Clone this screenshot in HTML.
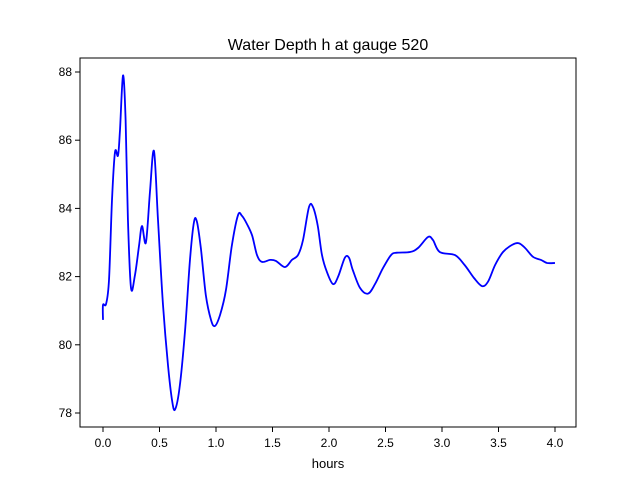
<!DOCTYPE html>
<html><head><meta charset="utf-8"><style>
body{margin:0;background:#fff}
svg{font-family:"Liberation Sans","DejaVu Sans",sans-serif}
</style></head><body>
<svg width="640" height="480" viewBox="0 0 640 480">
<rect width="640" height="480" fill="#fff"/>
<text x="328" y="50" text-anchor="middle" font-size="16">Water Depth h at gauge 520</text>
<g id="grid"></g>
<path id="line" fill="none" stroke="#0000ff" stroke-width="1.8"/>
<rect x="80" y="58" width="496" height="369" fill="none" stroke="#000" stroke-width="1"/>
<g id="xt"></g><g id="yt"></g>
<text x="328" y="468" text-anchor="middle" font-size="13">hours</text>
</svg>
<script>
const xTicks=[0,0.5,1,1.5,2,2.5,3,3.5,4];
const xTickLabels=["0.0","0.5","1.0","1.5","2.0","2.5","3.0","3.5","4.0"];
const yTicks=[78,80,82,84,86,88];
const yTickLabels=["78","80","82","84","86","88"];
const hours=[0,0,0.027,0.053,0.08,0.106,0.133,0.15,0.177,0.2,0.22,0.248,0.283,0.319,0.345,0.38,0.416,0.451,0.487,0.531,0.575,0.61,0.637,0.68,0.726,0.77,0.805,0.832,0.867,0.91,0.956,0.99,1.035,1.088,1.14,1.195,1.23,1.274,1.32,1.363,1.407,1.478,1.53,1.61,1.672,1.726,1.77,1.823,1.858,1.9,1.938,1.982,2.035,2.08,2.14,2.177,2.21,2.274,2.345,2.407,2.478,2.549,2.6,2.717,2.788,2.876,2.92,2.98,3.115,3.2,3.283,3.354,3.407,3.47,3.54,3.62,3.68,3.735,3.805,3.876,3.93,4.0];
const depth=[80.73,81.17,81.2,81.9,84.25,85.65,85.55,86.3,87.9,86.6,83.7,81.67,82.05,82.9,83.48,83.0,84.5,85.68,83.66,81.17,79.4,78.4,78.1,78.8,80.4,82.5,83.6,83.6,82.8,81.46,80.73,80.55,80.87,81.6,82.9,83.8,83.78,83.54,83.2,82.63,82.43,82.49,82.46,82.28,82.49,82.63,83.07,84.04,84.04,83.5,82.63,82.13,81.78,81.99,82.55,82.55,82.2,81.67,81.5,81.78,82.25,82.63,82.7,82.72,82.84,83.16,83.07,82.72,82.63,82.34,81.96,81.72,81.85,82.34,82.72,82.93,82.98,82.84,82.58,82.49,82.4,82.4];
const X=v=>103+v*113, Y=v=>72+(88-v)*34.1;
const ns="http://www.w3.org/2000/svg";
function mk(t,a,p){const e=document.createElementNS(ns,t);for(const k in a)e.setAttribute(k,a[k]);p.appendChild(e);return e;}
const xt=document.getElementById('xt'),yt=document.getElementById('yt');
xTicks.forEach((v,i)=>{
 const l=mk('line',{x1:X(v),x2:X(v),y1:427,y2:432,stroke:'#000'},xt);
 
 
 const t=mk('text',{x:X(v),y:447,'text-anchor':'middle','font-size':'12'},xt);
 
 
 t.textContent=xTickLabels[i];
});
yTicks.forEach((v,i)=>{
 const l=mk('line',{x1:75,x2:80,y1:Y(v),y2:Y(v),stroke:'#000'},yt);
 
 
 const t=mk('text',{x:72,y:Y(v)+4,'text-anchor':'end','font-size':'12'},yt);
 
 
 t.textContent=yTickLabels[i];
});
const P=hours.map((h,i)=>[X(h),Y(depth[i])]);
let d='M'+P[0][0]+','+P[0][1];
for(let i=0;i<P.length-1;i++){
 const p0=P[Math.max(i-1,0)],p1=P[i],p2=P[i+1],p3=P[Math.min(i+2,P.length-1)];
 const c1=[p1[0]+(p2[0]-p0[0])/6,p1[1]+(p2[1]-p0[1])/6];
 const c2=[p2[0]-(p3[0]-p1[0])/6,p2[1]-(p3[1]-p1[1])/6];
 d+=' C'+c1[0].toFixed(1)+','+c1[1].toFixed(1)+' '+c2[0].toFixed(1)+','+c2[1].toFixed(1)+' '+p2[0].toFixed(1)+','+p2[1].toFixed(1);
}
document.getElementById('line').setAttribute('d',d);
</script>
</body></html>
